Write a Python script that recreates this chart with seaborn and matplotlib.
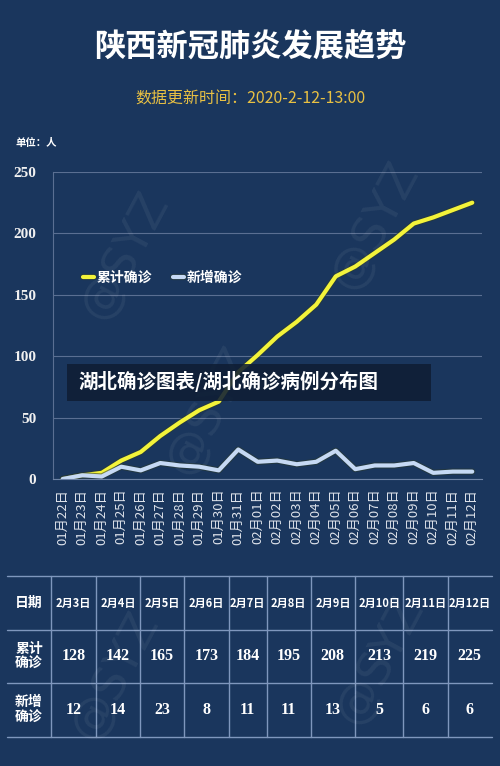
import matplotlib
matplotlib.use("Agg")
import matplotlib.pyplot as plt
import seaborn as sns
import pandas as pd
from matplotlib.lines import Line2D
from matplotlib.patches import Rectangle
import matplotlib.patheffects as pe

# data
dates = ["01月22日", "01月23日", "01月24日", "01月25日", "01月26日", "01月27日",
         "01月28日", "01月29日", "01月30日", "01月31日", "02月01日", "02月02日",
         "02月03日", "02月04日", "02月05日", "02月06日", "02月07日", "02月08日",
         "02月09日", "02月10日", "02月11日", "02月12日"]
cumulative = [0, 3, 5, 15, 22, 35, 46, 56, 63, 87, 101, 116,
              128, 142, 165, 173, 184, 195, 208, 213, 219, 225]
new_cases = [0, 3, 2, 10, 7, 13, 11, 10, 7, 24, 14, 15,
             12, 14, 23, 8, 11, 11, 13, 5, 6, 6]

table_dates = ["2月3日", "2月4日", "2月5日", "2月6日", "2月7日",
               "2月8日", "2月9日", "2月10日", "2月11日", "2月12日"]
table_cum = [128, 142, 165, 173, 184, 195, 208, 213, 219, 225]
table_new = [12, 14, 23, 8, 11, 11, 13, 5, 6, 6]

BG = "#1a365d"
YELLOW = "#f3f33a"
BLUE = "#c6d9f4"

sns.set_style("dark")
plt.rcParams['font.family'] = ['Noto Sans CJK SC', 'DejaVu Sans']

df = pd.DataFrame({"日期": dates, "累计确诊": cumulative, "新增确诊": new_cases})
long_df = df.melt(id_vars="日期", var_name="类型", value_name="人数")

fig = plt.figure(figsize=(5, 7.66), dpi=100, facecolor=BG)
ax = fig.add_axes([0.106, 0.3747, 0.858, 0.4008])
ax.set_facecolor(BG)

sns.lineplot(data=long_df, x="日期", y="人数", hue="类型",
             palette={"累计确诊": YELLOW, "新增确诊": BLUE},
             linewidth=3, ax=ax, sort=False)
for ln in ax.lines:
    ln.set_path_effects([pe.Stroke(linewidth=4.5, foreground="#2a3a30", alpha=0.6), pe.Normal()])

ax.set_xlim(-0.5, 21.5)
ax.set_ylim(0, 250)
ax.set_yticks([0, 50, 100, 150, 200, 250])
ax.set_yticklabels(["0", "50", "100", "150", "200", "250"],
                   family="Liberation Serif", fontweight="bold", fontsize=11, color="#f0f0f0")
ax.set_xticks(range(len(dates)))
ax.set_xticklabels(dates, rotation=90, fontsize=9.5, color="#dde2ea")
ax.set_xticks([i - 0.5 for i in range(len(dates) + 1)], minor=True)
ax.tick_params(axis="x", which="major", length=0, pad=7)
ax.tick_params(axis="x", which="minor", length=4, color="#6f84a6", width=0.8)
ax.tick_params(axis="y", length=0, pad=12)
ax.set_xlabel("")
ax.set_ylabel("")
ax.grid(axis="y", color="#5a6f92", linewidth=0.8)
ax.grid(axis="x", visible=False)
for side in ["top", "right"]:
    ax.spines[side].set_visible(False)
ax.spines["left"].set_color("#5a6f92")
ax.spines["bottom"].set_color("#6f84a6")

leg = ax.legend(loc="upper left", bbox_to_anchor=(0.04, 0.72), ncol=2, frameon=False,
                handlelength=0.8, handletextpad=0.2, columnspacing=1.5,
                prop={"family": ["Noto Sans CJK SC"], "weight": "bold", "size": 10})
for t in leg.get_texts():
    t.set_color("white")
for h in leg.get_lines():
    h.set_linewidth(3)

# titles
fig.text(0.5, 1 - 48 / 766, "陕西新冠肺炎发展趋势", ha="center", va="center",
         fontsize=22.5, fontweight="bold", color="white")
fig.text(0.5, 1 - 99 / 766, "数据更新时间：2020-2-12-13:00", ha="center", va="center",
         fontsize=11.5, color="#e8c043")
fig.text(15 / 500, 1 - 143 / 766, "单位：人", ha="left", va="center",
         fontsize=7.5, fontweight="bold", color="white")

# watermarks
for (wx, wy) in [(125, 255), (375, 225), (210, 410), (115, 675), (380, 660)]:
    fig.text(wx / 500, 1 - wy / 766, "@SYZ", ha="center", va="center", rotation=62,
             fontsize=34, color="white", alpha=0.06, family="DejaVu Sans")

# overlay banner
fig.patches.append(Rectangle((67 / 500, 1 - 401 / 766), 364 / 500, 37 / 766,
                             transform=fig.transFigure, facecolor="#0f1e35", alpha=0.88,
                             edgecolor="none", zorder=5))
fig.text(78 / 500, 1 - 382 / 766, "湖北确诊图表/湖北确诊病例分布图", ha="left", va="center",
         fontsize=14, fontweight="bold", color="white", zorder=6)

# table
line_col = "#7f97bd"
h_lines = [576, 630, 683, 737]
v_lines = [51, 95.7, 140, 184.3, 228.7, 266.7, 310.7, 355, 403.3, 447.7]
t_left, t_right = 7, 492
for yy in h_lines:
    fig.add_artist(Line2D([t_left / 500, t_right / 500], [1 - yy / 766, 1 - yy / 766],
                          color=line_col, linewidth=1, transform=fig.transFigure))
for xx in v_lines:
    fig.add_artist(Line2D([xx / 500, xx / 500], [1 - h_lines[0] / 766, 1 - h_lines[-1] / 766],
                          color=line_col, linewidth=1, transform=fig.transFigure))

rows_y = [(h_lines[i] + h_lines[i + 1]) / 2 for i in range(3)]
col_x = [(t_left + v_lines[0]) / 2] + [(v_lines[i] + (v_lines[i + 1] if i + 1 < len(v_lines) else t_right)) / 2
                                       for i in range(len(v_lines))]
fig.text(col_x[0] / 500, 1 - rows_y[0] / 766, "日期", ha="center", va="center",
         fontsize=10, fontweight="bold", color="white")
fig.text(col_x[0] / 500, 1 - rows_y[1] / 766, "累计\n确诊", ha="center", va="center",
         fontsize=10, fontweight="bold", color="white", linespacing=1.1)
fig.text(col_x[0] / 500, 1 - rows_y[2] / 766, "新增\n确诊", ha="center", va="center",
         fontsize=10, fontweight="bold", color="white", linespacing=1.1)
for i in range(len(table_dates)):
    cx = col_x[i + 1] / 500
    fig.text(cx, 1 - rows_y[0] / 766, table_dates[i], ha="center", va="center",
             fontsize=8, fontweight="bold", color="white")
    fig.text(cx, 1 - rows_y[1] / 766, str(table_cum[i]), ha="center", va="center",
             fontsize=11.5, fontweight="bold", color="white", family="Liberation Serif")
    fig.text(cx, 1 - rows_y[2] / 766, str(table_new[i]), ha="center", va="center",
             fontsize=11.5, fontweight="bold", color="white", family="Liberation Serif")

fig.savefig("out.png", dpi=100, facecolor=BG)
